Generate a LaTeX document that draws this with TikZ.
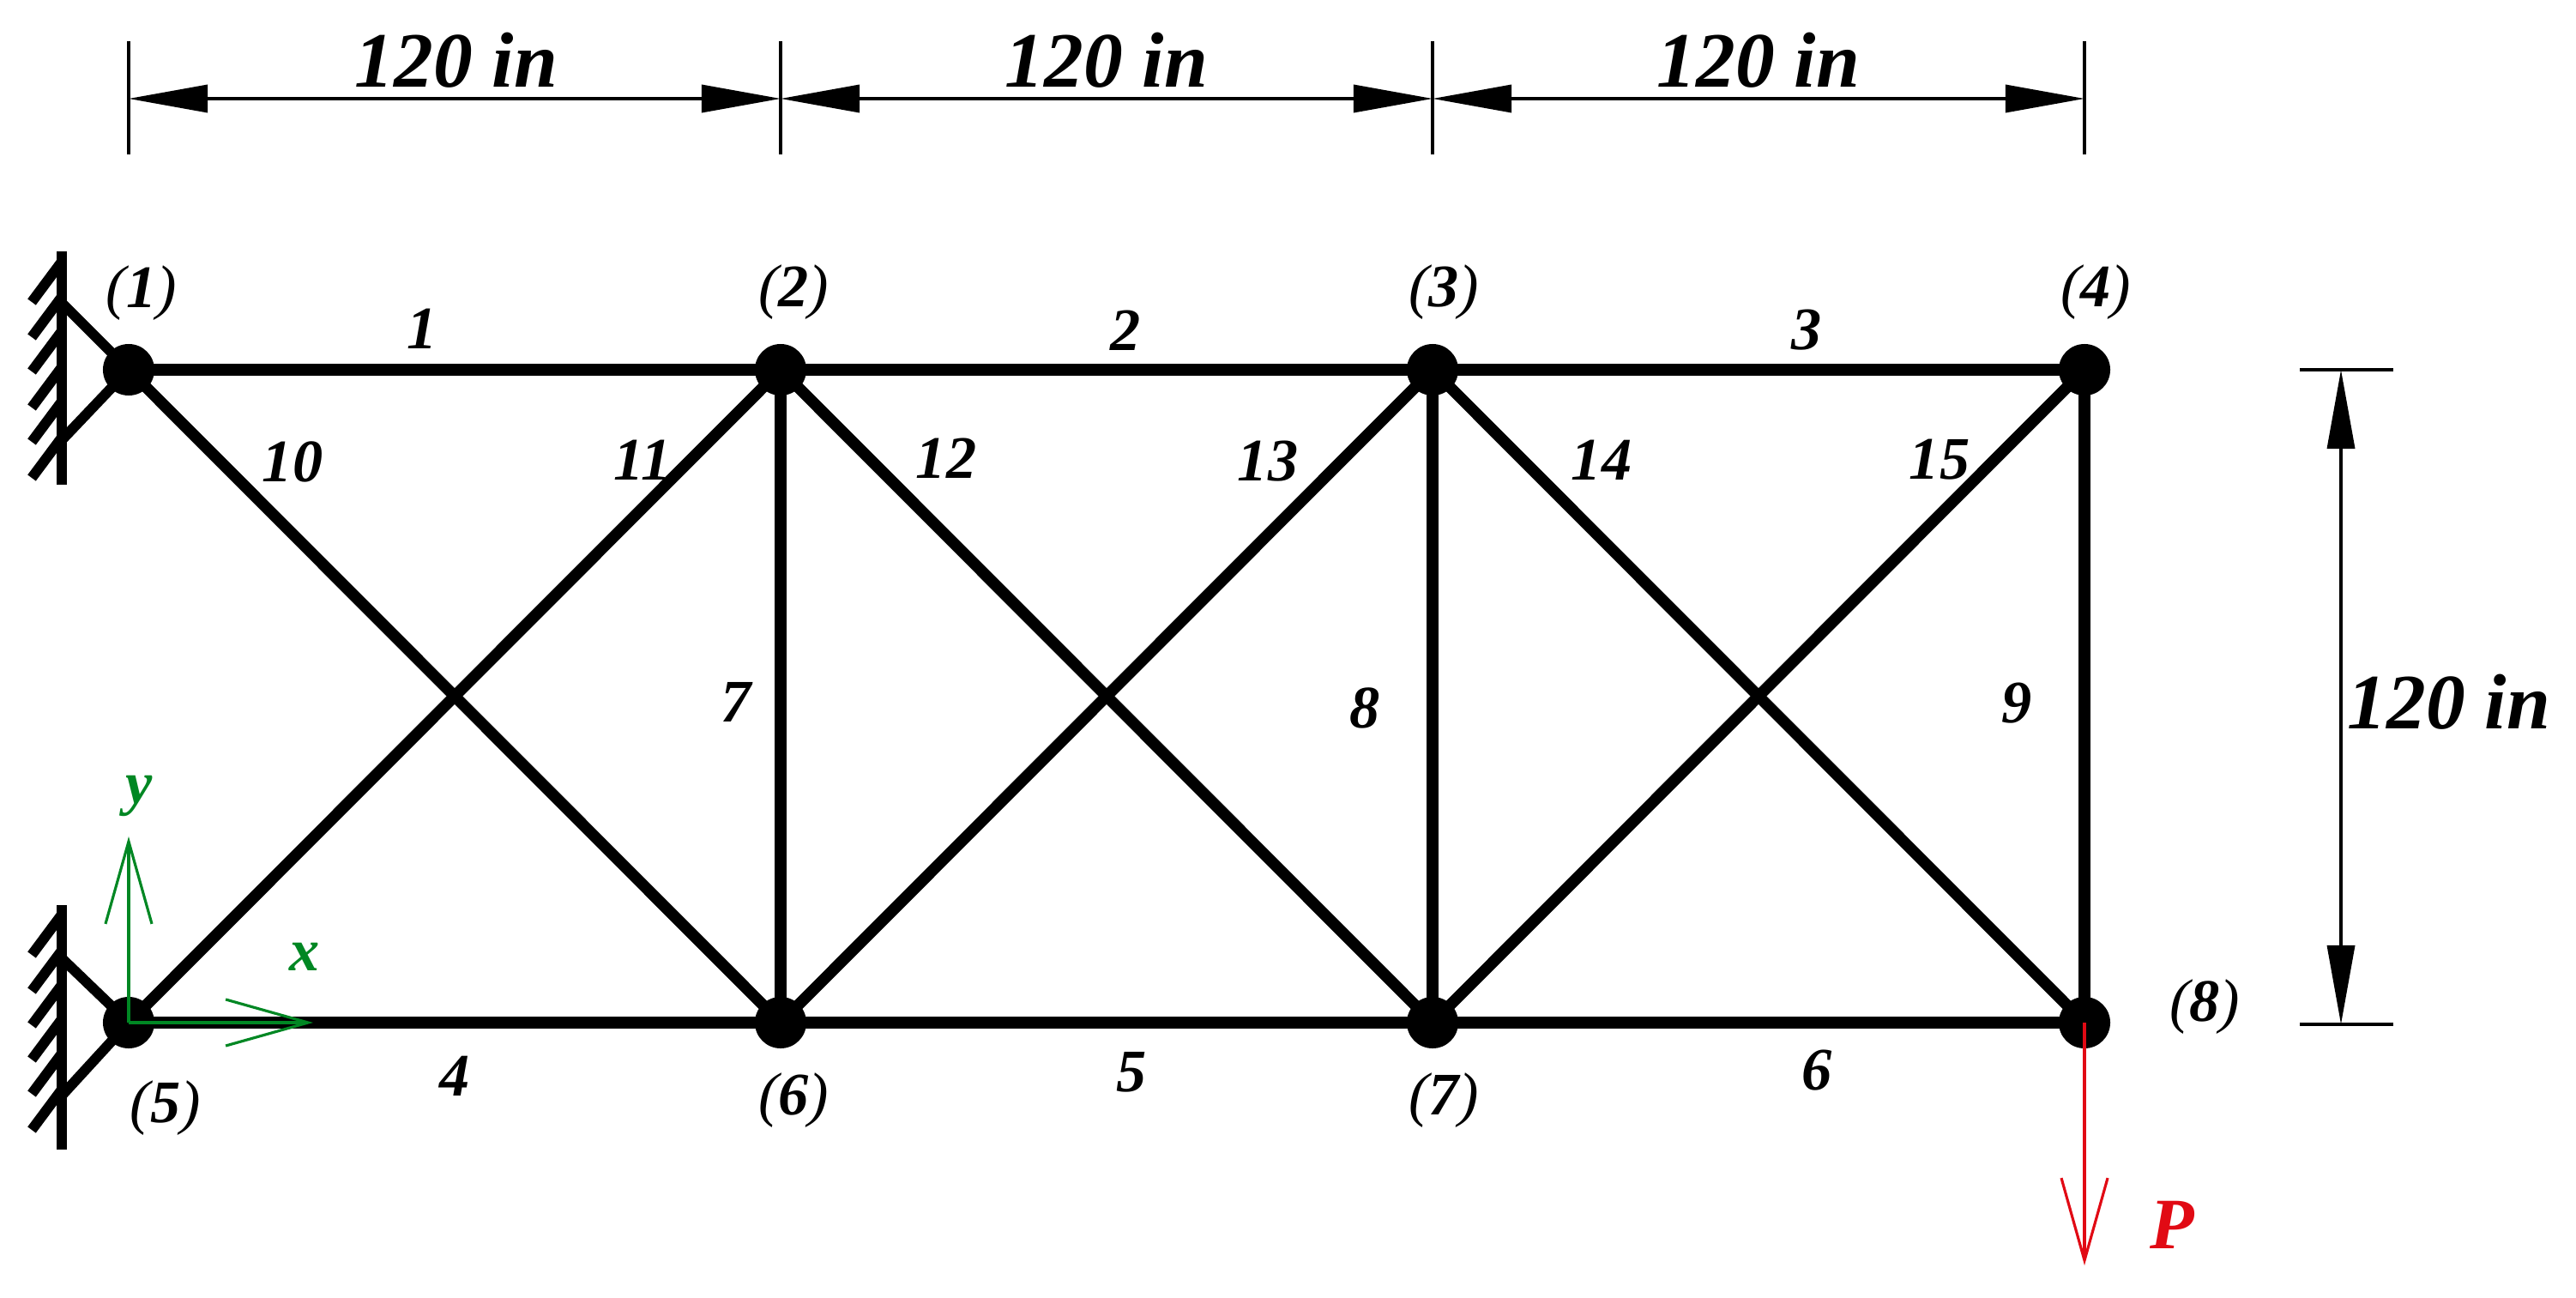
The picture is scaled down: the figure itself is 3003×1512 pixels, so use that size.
\documentclass[tikz,border=0pt]{standalone}
\usepackage{fontspec}
\setmainfont{Liberation Serif}
\usetikzlibrary{arrows.meta}
\definecolor{axisgreen}{RGB}{0,135,35}
\definecolor{loadred}{RGB}{225,10,20}
\newcommand{\jointnum}[1]{{\mdseries(}#1{\mdseries)}}
\tikzset{
	joint/.style={circle,fill=black,inner sep=0pt,minimum size=0.6cm},
	bar/.style={line width=3.8pt},
	wallline/.style={line width=3.4pt},
	dimline/.style={line width=1pt},
	dimarrow/.style={dimline,{Triangle[length=0.92cm,width=0.32cm]}-{Triangle[length=0.92cm,width=0.32cm]}},
	openarrow/.style={line width=1.1pt,-{Straight Barb[length=0.96cm,width=0.54cm,line width=0.9pt]}},
	lbl/.style={inner sep=0pt,font=\fontsize{20}{24}\selectfont\bfseries\itshape},
	dimlbl/.style={inner sep=0pt,font=\fontsize{26}{30}\selectfont\bfseries\itshape}
}
\begin{document}
\begin{tikzpicture}[x=0.01cm,y=-0.01cm]
	\useasboundingbox (0,0) rectangle (3003,1512);
	\draw[wallline] (72,293) -- (72,565);
	\draw[wallline] (72,1055) -- (72,1340);
	\foreach \y in {352,393,433,475,515,557,1113,1155,1195,1235,1275,1317}
		\draw[wallline] (37,\y) -- ++(35,-47);
	\node[joint] (n1) at (150,431) {};
	\node[joint] (n2) at (910,431) {};
	\node[joint] (n3) at (1670,431) {};
	\node[joint] (n4) at (2430,431) {};
	\node[joint] (n5) at (150,1192) {};
	\node[joint] (n6) at (910,1192) {};
	\node[joint] (n7) at (1670,1192) {};
	\node[joint] (n8) at (2430,1192) {};
	\foreach \a/\b in {n1/n2,n2/n3,n3/n4,n5/n6,n6/n7,n7/n8,n2/n6,n3/n7,n4/n8,n1/n6,n5/n2,n2/n7,n6/n3,n3/n8,n7/n4}
		\draw[bar] (\a.center) -- (\b.center);
	\coordinate (s1) at (72,353);
	\coordinate (s2) at (72,513);
	\coordinate (s3) at (72,1117);
	\coordinate (s4) at (72,1277);
	\draw[wallline] (s1) -- (n1.center);
	\draw[wallline] (s2) -- (n1.center);
	\draw[wallline] (s3) -- (n5.center);
	\draw[wallline] (s4) -- (n5.center);
	\foreach \n/\x/\y in {1/165/342,2/925/341,3/1683/341,4/2443/341,5/193/1292,6/925/1283,7/1683/1283,8/2570/1174}
		\node[lbl] at (\x,\y) {\jointnum{\n}};
	\foreach \n/\x/\y in {1/492/383,2/1312/385,3/2106/385,4/530/1254,5/1319/1250,6/2118/1248,7/858/818,8/1591/825,9/2351/820,10/341/538,11/749/536,12/1103/534,13/1478/538,14/1867/536,15/2261/536}
		\node[lbl] at (\x,\y) {\n};
	\foreach \x [count=\i] in {150,910,1670,2430} {
		\coordinate (t\i) at (\x,48);
		\coordinate (b\i) at (\x,180);
		\coordinate (d\i) at (\x,115);
		\draw[dimline] (t\i) -- (b\i);
	}
	\draw[dimarrow] (d1) -- (d2);
	\draw[dimarrow] (d2) -- (d3);
	\draw[dimarrow] (d3) -- (d4);
	\node[dimlbl] (w1) at (532,70) {120 in};
	\node[dimlbl] (w2) at (1290,70) {120 in};
	\node[dimlbl] (w3) at (2050,70) {120 in};
	\coordinate (r1) at (2681,431);
	\coordinate (r2) at (2790,431);
	\coordinate (r3) at (2681,1194);
	\coordinate (r4) at (2790,1194);
	\coordinate (h1) at (2729,431);
	\coordinate (h2) at (2729,1194);
	\draw[dimline] (r1) -- (r2);
	\draw[dimline] (r3) -- (r4);
	\draw[dimarrow] (h1) -- (h2);
	\node[dimlbl] (w4) at (2855,818) {120 in};
	\coordinate (xtip) at (365,1192);
	\coordinate (ytip) at (150,975);
	\coordinate (ptip) at (2430,1475);
	\draw[openarrow,axisgreen] (n5.center) -- (xtip);
	\draw[openarrow,axisgreen] (n5.center) -- (ytip);
	\draw[openarrow,loadred] (n8.center) -- (ptip);
	\node[lbl,axisgreen] (xl) at (355,1115) {x};
	\node[lbl,axisgreen] (yl) at (162,928) {y};
	\node[lbl,loadred,font=\fontsize{24}{28}\selectfont\bfseries\itshape] (pl) at (2532,1428) {P};
\end{tikzpicture}
\end{document}
